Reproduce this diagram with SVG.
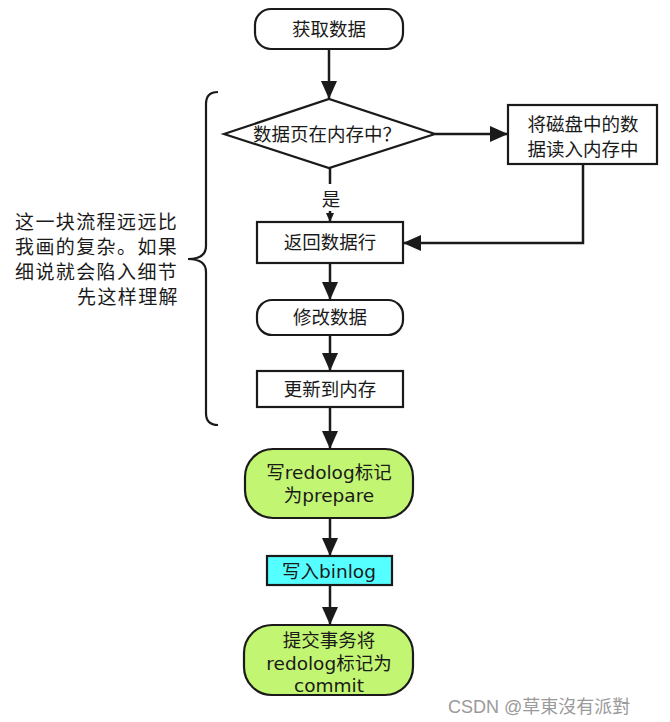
<svg xmlns="http://www.w3.org/2000/svg" width="670" height="722" viewBox="0 0 670 722">
<style>
.n{stroke:#1a1a1a;stroke-width:2.2;fill:#fff}
.t{font-family:"DejaVu Sans","Noto Sans CJK SC",sans-serif;font-size:18.5px;fill:#1a1a1a;text-anchor:middle}
.c{stroke:#1a1a1a;stroke-width:2.5;fill:none}
.note{font-family:"Noto Sans CJK SC",sans-serif;font-size:19px;fill:#1a1a1a;letter-spacing:1.4px}
</style>
<defs>
<marker id="a" markerWidth="18" markerHeight="18" refX="17" refY="8" orient="auto" markerUnits="userSpaceOnUse" viewBox="0 0 18 18">
<path d="M0,0 L18,8 L0,16 Z" fill="#1a1a1a"/>
</marker>
<marker id="s" markerWidth="10" markerHeight="10" refX="8" refY="4" orient="auto" markerUnits="userSpaceOnUse" viewBox="0 0 10 10">
<path d="M0,0 L9,4 L0,8 Z" fill="#1a1a1a"/>
</marker>
</defs>
<rect width="670" height="722" fill="#fff"/>
<g id="connectors">
<line class="c" x1="329" y1="49" x2="329" y2="98" marker-end="url(#a)"/>
<line class="c" x1="435" y1="134" x2="507" y2="134" marker-end="url(#a)"/>
<line class="c" x1="330" y1="168" x2="330" y2="184"/>
<line class="c" x1="330" y1="211" x2="330" y2="221" marker-end="url(#s)"/>
<polyline class="c" points="583,164 583,243 404,243" marker-end="url(#a)"/>
<line class="c" x1="330" y1="263" x2="330" y2="299" marker-end="url(#a)"/>
<line class="c" x1="330" y1="335" x2="330" y2="370" marker-end="url(#a)"/>
<line class="c" x1="330" y1="407" x2="330" y2="448" marker-end="url(#a)"/>
<line class="c" x1="330" y1="518" x2="330" y2="555" marker-end="url(#a)"/>
<line class="c" x1="330" y1="585" x2="330" y2="624" marker-end="url(#a)"/>
<text class="t" x="331" y="206">是</text>
</g>
<g id="n1"><rect class="n" x="255" y="9" width="148" height="40" rx="16"/><text class="t" x="329" y="36">获取数据</text></g>
<g id="n2"><polygon class="n" points="224,134 329,99 435,134 329,168"/><text class="t" x="327" y="141">数据页在内存中？</text></g>
<g id="n3"><rect class="n" x="508" y="105" width="149" height="59"/><text class="t" x="583" y="131">将磁盘中的数</text><text class="t" x="583" y="156">据读入内存中</text></g>
<g id="n4"><rect class="n" x="257" y="222" width="146" height="41"/><text class="t" x="330" y="249">返回数据行</text></g>
<g id="n5"><rect class="n" x="257" y="300" width="146" height="35" rx="15"/><text class="t" x="330" y="324">修改数据</text></g>
<g id="n6"><rect class="n" x="257" y="371" width="146" height="36"/><text class="t" x="330" y="396">更新到内存</text></g>
<g id="n7"><rect class="n" x="245" y="449" width="168" height="69" rx="28" style="fill:#c2f572"/><text class="t" x="329" y="479">写redolog标记</text><text class="t" x="329" y="502">为prepare</text></g>
<g id="n8"><rect class="n" x="267" y="556" width="125" height="29" style="fill:#55ffff"/><text class="t" x="329" y="578">写入binlog</text></g>
<g id="n9"><rect class="n" x="244" y="625" width="169" height="70" rx="28" style="fill:#c2f572"/><text class="t" x="329" y="647">提交事务将</text><text class="t" x="329" y="670">redolog标记为</text><text class="t" x="329" y="692">commit</text></g>
<g id="brace">
<path class="c" d="M218,92 Q206,92 206,104 L206,246 Q206,259 188,259 Q206,259 206,272 L206,413 Q206,425 218,425" style="stroke-width:2.2"/>
<text class="note" x="15" y="229">这一块流程远远比</text>
<text class="note" x="15" y="254">我画的复杂。如果</text>
<text class="note" x="15" y="279">细说就会陷入细节</text>
<text class="note" x="77" y="304">先这样理解</text>
</g>
<text x="448" y="713" style="font-family:'Liberation Sans','Noto Sans CJK SC',sans-serif;font-size:18px;fill:#9a9a9a">CSDN @草東沒有派對</text>
</svg>
